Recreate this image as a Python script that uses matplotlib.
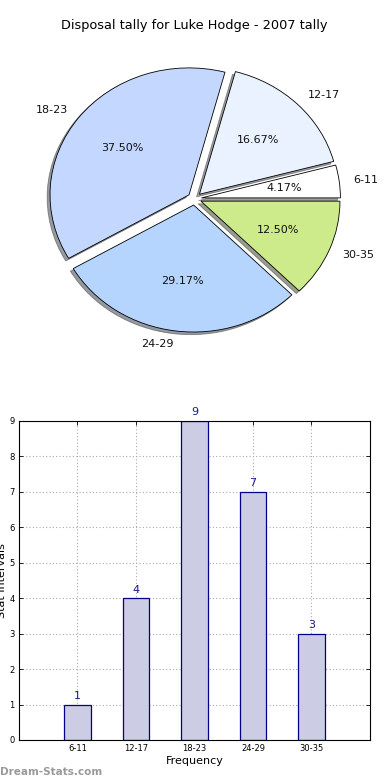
import matplotlib
matplotlib.use("Agg")
import matplotlib.pyplot as plt

categories = ["6-11", "12-17", "18-23", "24-29", "30-35"]
values = [1, 4, 9, 7, 3]
pie_colors = ["#FFFFFF", "#EAF1FF", "#C4D8FF", "#B5D5FF", "#CEEB8B"]
explode = [0.05, 0.05, 0.05, 0.05, 0.05]
title = "Disposal tally for Luke Hodge - 2007 tally"
yticks = list(range(0, 10))

fig = plt.figure(figsize=(3.9, 7.8), dpi=100)

# Pie chart
axp = fig.add_axes([0.0533, 0.5417, 0.891, 0.407])
wedges, texts, autotexts = axp.pie(
    values, labels=categories, colors=pie_colors, explode=explode,
    autopct="%1.2f%%", shadow=dict(ox=-0.015, oy=-0.015, shade=0.75),
    startangle=0, counterclock=True,
    labeldistance=1.1, pctdistance=0.6,
    wedgeprops=dict(edgecolor="black", linewidth=0.6),
    textprops=dict(fontsize=8, color="#111111"))
axp.set_aspect("auto")
axp.set_xlim(-1.25, 1.25)
axp.set_ylim(-1.25, 1.25)
axp.set_title(title, fontsize=9.3, pad=8)

# Bar chart
axb = fig.add_axes([0.0487, 0.0513, 0.9, 0.409])
x = list(range(1, len(categories) + 1))
bars = axb.bar(x, values, width=0.45, color="#CCCCE5", edgecolor="#00008B",
               linewidth=0.9, zorder=2)
for xi, v in zip(x, values):
    axb.text(xi, v + 0.1, str(v), ha="center", va="bottom", fontsize=8,
             color="#1A1A8C")
axb.set_xlim(0, 6)
axb.set_ylim(0, 9)
axb.set_xticks(x)
axb.set_xticklabels(categories, fontsize=6)
axb.set_yticks(yticks)
axb.set_yticklabels([str(t) for t in yticks], fontsize=6)
axb.tick_params(direction="in", top=True, right=True, length=3, width=0.6, pad=3)
axb.grid(True, linestyle=(0, (1, 2)), color="#AAAAAA", linewidth=0.8, zorder=0)
axb.set_axisbelow(True)
axb.set_xlabel("Frequency", fontsize=8, labelpad=2)
axb.set_ylabel("Stat Intervals", fontsize=8, labelpad=2)
for s in axb.spines.values():
    s.set_linewidth(0.8)

fig.text(0.0, 0.004, "Dream-Stats.com", fontsize=7.5, color="#9A9A9A",
         fontweight="bold", ha="left", va="bottom")

fig.savefig("out.png", dpi=100)
